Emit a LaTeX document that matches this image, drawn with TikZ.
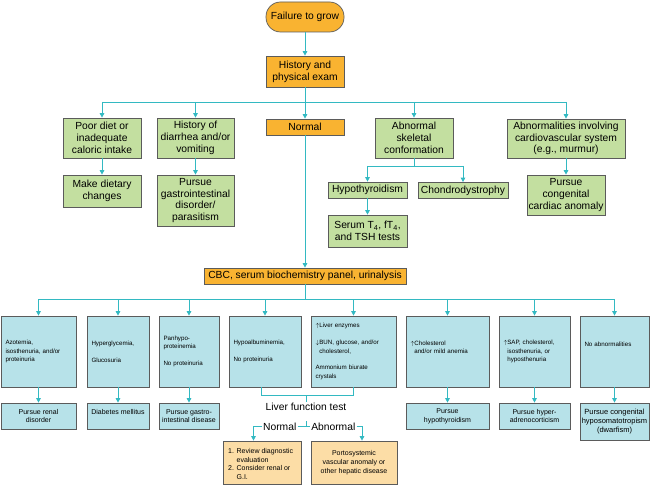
\documentclass[tikz,border=0pt]{standalone}
\usepackage{fontspec}
\setmainfont{Liberation Sans}
\usetikzlibrary{arrows.meta,calc}
\definecolor{orangeC}{HTML}{F9B331}
\definecolor{greenC}{HTML}{C3DFA0}
\definecolor{blueC}{HTML}{B7E2E9}
\definecolor{peachC}{HTML}{FCDDA6}
\definecolor{tealC}{HTML}{33B9C2}
\definecolor{borderC}{HTML}{5B5B5B}
\begin{document}
\begin{tikzpicture}[x=1pt,y=-1pt,
  box/.style={draw=borderC, line width=0.7pt, inner sep=0pt, align=center},
  orbox/.style={box, fill=orangeC, font=\fontsize{10.3}{11.7}\selectfont},
  grbox/.style={box, fill=greenC, font=\fontsize{10.3}{11.7}\selectfont},
  bubox/.style={box, fill=blueC, font=\fontsize{6.2}{8.4}\selectfont, align=left, inner xsep=4.5pt, minimum height=71pt},
  bobox/.style={box, fill=blueC, font=\fontsize{7}{8.7}\selectfont},
  pebox/.style={box, fill=peachC, font=\fontsize{7}{8.7}\selectfont, minimum height=43pt},
  conn/.style={draw=tealC, line width=0.9pt},
  arr/.style={conn, -{Triangle[length=4.5pt,width=4.5pt]}},
  lbl/.style={font=\fontsize{10.3}{11.7}\selectfont, inner sep=1pt}]
\useasboundingbox (0,0) rectangle (650,486);

% top
\node[orbox, rounded corners=14.5pt, minimum width=78pt, minimum height=30pt] (fail) at (305,17) {Failure to grow};
\node[orbox, minimum width=78pt, minimum height=31pt] (hist) at (305,71.5) {History and\\physical exam};
\draw[arr] (fail.south) -- (hist.north);

\node[grbox, minimum width=78pt, minimum height=40pt] (poor) at (102,138) {Poor diet or\\inadequate\\caloric intake};
\node[grbox, minimum width=77pt, minimum height=40pt] (diar) at (195.5,138) {History of\\diarrhea and/or\\vomiting};
\node[orbox, minimum width=78pt, minimum height=16pt] (norm) at (305,127) {Normal};
\node[grbox, minimum width=78pt, minimum height=40pt] (skel) at (414,138) {Abnormal\\skeletal\\conformation};
\node[grbox, minimum width=118pt, minimum height=39pt] (card) at (566,138.5) {Abnormalities involving\\cardiovascular system\\(e.g., murmur)};

\node[grbox, minimum width=78pt, minimum height=32pt] (diet) at (102,191) {Make dietary\\changes};
\node[grbox, minimum width=77pt, minimum height=51pt] (pgi) at (195.5,200.5) {Pursue\\gastrointestinal\\disorder/\\parasitism};
\node[grbox, minimum width=79pt, minimum height=16pt] (hypo) at (367.5,190) {Hypothyroidism};
\node[grbox, minimum width=90pt, minimum height=16pt] (chon) at (463,190.5) {Chondrodystrophy};
\node[grbox, minimum width=79pt, minimum height=32pt] (serum) at (367.5,231) {Serum T\textsubscript{4}, fT\textsubscript{4},\\and TSH tests};
\node[grbox, minimum width=78pt, minimum height=40pt] (pcc) at (566,195) {Pursue\\congenital\\cardiac anomaly};

\coordinate (tb) at (305,102);
\draw[conn] (hist.south) -- (tb);
\draw[conn] (poor.north |- tb) -- (card.north |- tb);
\foreach \n in {poor,diar,norm,skel,card} \draw[arr] (\n.north |- tb) -- (\n.north);
\draw[arr] (poor.south) -- (diet.north);
\draw[arr] (diar.south) -- (pgi.north);
\draw[arr] (card.south) -- (pcc.north);
\coordinate (sj) at (414,166);
\draw[conn] (skel.south) -- (sj);
\draw[conn] (hypo.north |- sj) -- (chon.north |- sj);
\draw[arr] (hypo.north |- sj) -- (hypo.north);
\draw[arr] (chon.north |- sj) -- (chon.north);
\draw[arr] (hypo.south) -- (serum.north);

% CBC
\node[orbox, minimum width=202pt, minimum height=16pt] (cbc) at (305,276) {CBC, serum biochemistry panel, urinalysis};
\draw[arr] (norm.south) -- (cbc.north);

\node[bubox, text width=66pt] (b1) at (38.5,351.5) {Azotemia,\\isosthenuria, and/or\\proteinuria};
\node[bubox, text width=53pt] (b2) at (118,351.5) {Hyperglycemia,\\[8.4pt]Glucosuria};
\node[bubox, text width=51pt] (b3) at (189,351.5) {Panhypo-\\proteinemia\\[8.4pt]No proteinuria};
\node[bubox, text width=63pt] (b4) at (265,351.5) {Hypoalbuminemia,\\[8.4pt]No proteinuria};
\node[bubox, text width=76pt] (b5) at (353.5,351.5) {$\uparrow$Liver enzymes\\[8.4pt]$\downarrow$BUN, glucose, and/or\\\hphantom{$\downarrow$}cholesterol,\\[8.4pt]Ammonium biurate\\crystals};
\node[bubox, text width=74pt] (b6) at (447.5,351.5) {$\uparrow$Cholesterol\\\hphantom{$\uparrow$}and/or mild anemia\\\mbox{}};
\node[bubox, text width=62pt] (b7) at (534.5,351.5) {$\uparrow$SAP, cholesterol,\\\hphantom{$\uparrow$}isosthenuria, or\\\hphantom{$\uparrow$}hyposthenuria};
\node[bubox, text width=60pt] (b8) at (614.5,351.5) {No abnormalities\\[7pt]\mbox{}};

\coordinate (mb) at (305,299);
\draw[conn] (cbc.south) -- (mb);
\draw[conn] (b1.north |- mb) -- (b8.north |- mb);
\foreach \n in {b1,b2,b3,b4,b5,b6,b7,b8} \draw[arr] (\n.north |- mb) -- (\n.north);

\node[bobox, minimum width=75pt, minimum height=26pt] (c1) at (38.5,416) {Pursue renal\\disorder};
\node[bobox, minimum width=62pt, minimum height=26pt] (c2) at (118,416) {Diabetes mellitus\\\mbox{}};
\node[bobox, minimum width=60pt, minimum height=26pt] (c3) at (189,416) {Pursue gastro-\\intestinal disease};
\node[bobox, minimum width=83pt, minimum height=26pt] (c6) at (447.5,416) {Pursue\\hypothyroidism};
\node[bobox, minimum width=71pt, minimum height=26pt] (c7) at (534.5,416) {Pursue hyper-\\adrenocorticism};
\node[bobox, minimum width=69pt, minimum height=37pt, font=\fontsize{7.5}{8.7}\selectfont] (c8) at (614.5,421.5) {Pursue congenital\\hyposomatotropism\\(dwarfism)};
\foreach \a/\b in {b1/c1,b2/c2,b3/c3,b6/c6,b7/c7,b8/c8} \draw[arr] (\a.south) -- (\b.north);

% liver function test
\coordinate (lj) at (261,395);
\coordinate (rj) at (353.5,395);
\coordinate (mj) at (306,395);
\draw[conn] (b4.south -| lj) -- (lj) -- (rj) -- (b5.south -| rj);
\node[lbl] (lft) at (306,406.6) {Liver function test};
\draw[conn] (mj) -- (lft.north);
\node[lbl] (nrm) at (279.7,426.7) {Normal};
\node[lbl] (abn) at (333.3,426.7) {Abnormal};
\coordinate (tk) at (306,421);
\draw[conn] (nrm.east) -- (abn.west);
\draw[conn] (tk) -- (tk |- nrm.east);

\node[pebox, minimum width=78pt] (pN) at (262,462.5) {};
\node[pebox, minimum width=86pt] (pA) at (354,462.5) {Portosystemic\\vascular anomaly or\\other hepatic disease};
\node[font=\fontsize{7}{8.7}\selectfont, align=left, inner sep=0pt, anchor=west] (pNt) at (228,464) {1. Review diagnostic\\\hphantom{1. }evaluation\\2. Consider renal or\\\hphantom{2. }G.I.};
\draw[arr] (nrm.west) -| ($(pN.north)+(-8.5,0)$);
\draw[arr] (abn.east) -| ($(pA.north)+(8,0)$);
\end{tikzpicture}
\end{document}
